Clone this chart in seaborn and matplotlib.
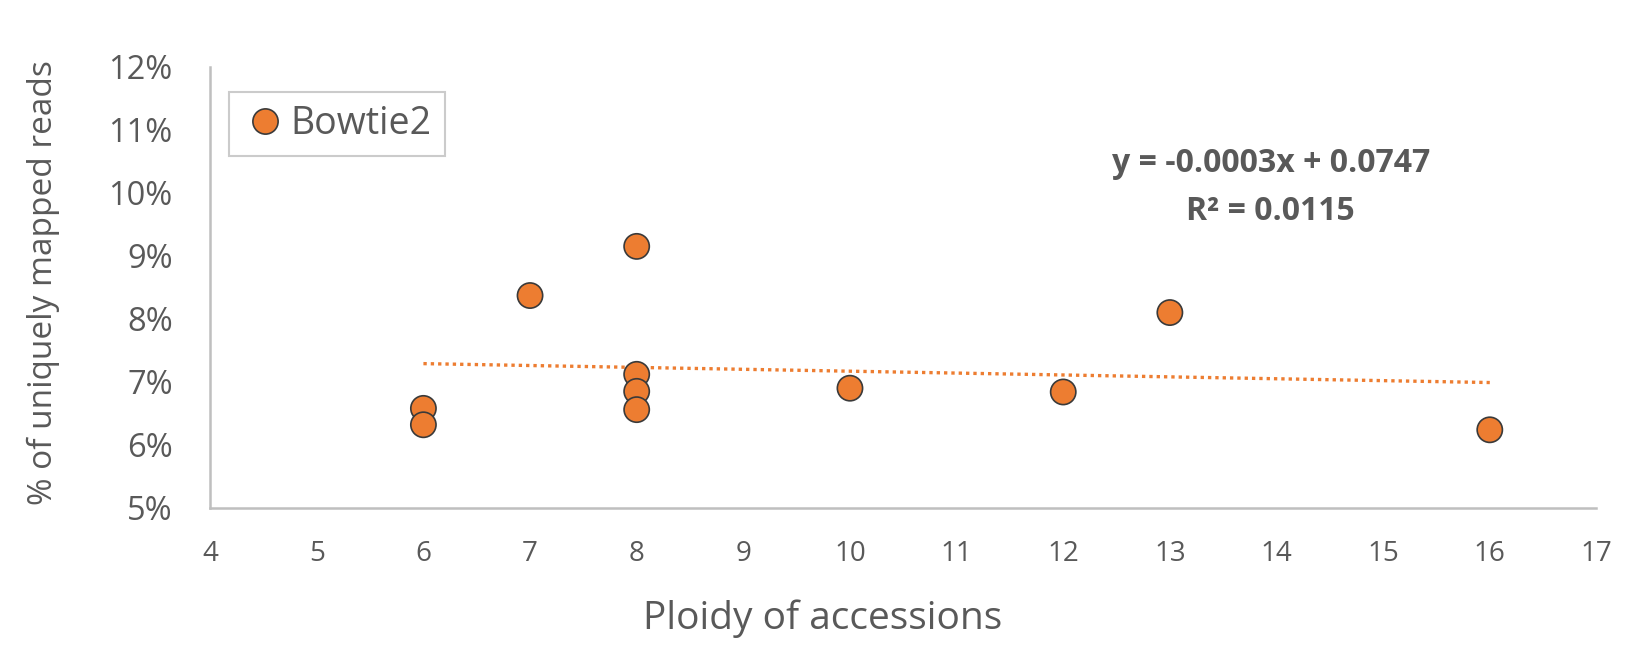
import numpy as np
import pandas as pd
import matplotlib
matplotlib.use("Agg")
import matplotlib.pyplot as plt
import seaborn as sns

# Ploidy level of each accession and its share of uniquely mapped reads (%)
ploidy = [6, 6, 7, 8, 8, 8, 8, 10, 12, 13, 16]
mapped_pct = [6.58, 6.32, 8.37, 9.15, 7.12, 6.85, 6.56, 6.90, 6.84, 8.10, 6.24]
series_name = "Bowtie2"

# Linear trendline reported on the chart (fraction units)
trend_slope = -0.0003
trend_intercept = 0.0747
trend_r2 = 0.0115

x_ticks = list(range(4, 18))
y_ticks = [5, 6, 7, 8, 9, 10, 11, 12]

ORANGE = "#ED7D31"
TEXT = "#595959"
AXIS = "#BFBFBF"

sns.set_style("white")
plt.rcParams["font.family"] = ["Open Sans", "DejaVu Sans"]

df = pd.DataFrame({"ploidy": ploidy, "pct": mapped_pct, "series": series_name})

fig = plt.figure(figsize=(16.29, 6.51), dpi=100)
ax = fig.add_axes([0.129, 0.2197, 0.851, 0.6778])

sns.scatterplot(data=df, x="ploidy", y="pct", hue="series", palette=[ORANGE],
                s=330, edgecolor="#3a3a3a", linewidth=1.2, ax=ax, zorder=3)

# Trendline over the range of the data
tx = np.array([min(ploidy), max(ploidy)], dtype=float)
ty = (trend_slope * tx + trend_intercept) * 100
sns.lineplot(x=tx, y=ty, color=ORANGE, linestyle=(0, (1, 1.2)), linewidth=2.4,
             ax=ax, zorder=2, legend=False)

ax.set_xlim(4, 17)
ax.set_ylim(5, 12)
ax.set_xticks(x_ticks)
ax.set_yticks(y_ticks)
ax.set_yticklabels([f"{v}%" for v in y_ticks])
ax.tick_params(axis="x", length=0, pad=23, labelsize=20, labelcolor=TEXT)
ax.tick_params(axis="y", length=0, pad=27, labelsize=23.5, labelcolor=TEXT)

for side in ("top", "right"):
    ax.spines[side].set_visible(False)
for side in ("left", "bottom"):
    ax.spines[side].set_color(AXIS)
    ax.spines[side].set_linewidth(1.8)

ax.set_xlabel("Ploidy of accessions", fontsize=28, color=TEXT)
ax.xaxis.set_label_coords(0.4416, -0.208)
ax.set_ylabel("% of uniquely mapped reads", fontsize=24, color=TEXT)
ax.yaxis.set_label_coords(-0.108, 0.51)

ax.text(0.765, 0.726,
        f"y = {trend_slope:.4f}x + {trend_intercept:.4f}\nR² = {trend_r2:.4f}",
        transform=ax.transAxes, ha="center", va="center", fontsize=23,
        fontweight="bold", color=TEXT, linespacing=1.6)

leg = ax.legend(loc="upper left", bbox_to_anchor=(0.0, 0.986), frameon=True,
                fancybox=False, fontsize=27, markerscale=1.0, handletextpad=0.1,
                borderpad=0.35, handlelength=1.2, labelcolor=TEXT)
leg.get_frame().set_edgecolor(AXIS)
leg.get_frame().set_linewidth(1.5)

fig.savefig("out.png", dpi=100, facecolor="white")
